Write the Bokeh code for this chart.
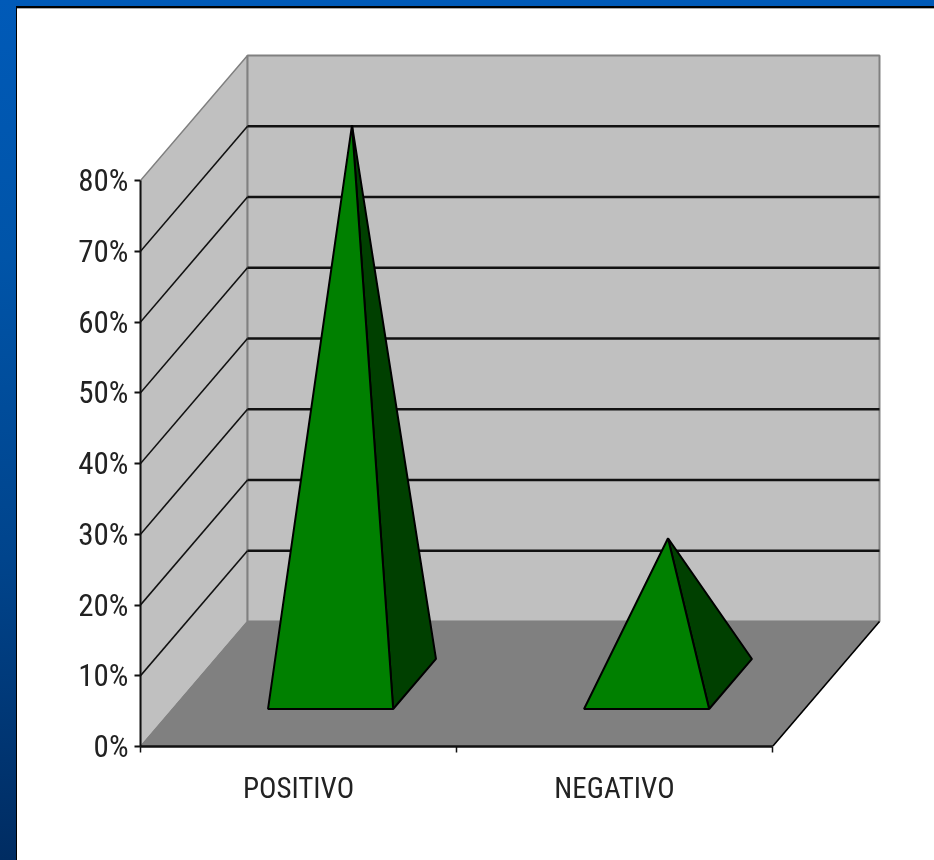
from bokeh.embed import file_html
from bokeh.resources import INLINE
from bokeh.plotting import figure
from bokeh.models import FixedTicker, Range1d

categories = ["POSITIVO", "NEGATIVO"]
values = [79, 20.6]
value_ticks = [0, 10, 20, 30, 40, 50, 60, 70, 80]
grid_values = [10, 20, 30, 40, 50, 60, 70]

# oblique projection of the chart's depth axis, in data units
DX = 107 / 316
DY = 125 / 7.07
HALF = 0.198
D_FRONT, D_BACK = 0.3, 0.7
FONT = "Roboto Condensed"

n = len(categories)
p = figure(
    width=934, height=860, output_backend="svg", toolbar_location=None,
    x_range=Range1d(0, n + DX + 2 / 316), y_range=Range1d(0, 80 + DY + 2 / 7.07),
    min_border_left=140, min_border_right=53, min_border_top=53, min_border_bottom=114,
    background_fill_color=None, border_fill_color=None, outline_line_color=None,
)
p.grid.visible = False

# side wall, back wall, floor
p.patch([0, DX, DX, 0], [0, DY, 80 + DY, 80], fill_color="#c0c0c0", line_color="#808080", line_width=1.5)
p.patch([DX, n + DX, n + DX, DX], [DY, DY, 80 + DY, 80 + DY], fill_color="#c0c0c0", line_color="#808080", line_width=2)
p.patch([0, n, n + DX, DX], [0, 0, DY, DY], fill_color="#808080", line_color="#808080", line_width=1)
p.line([n, n + DX], [0, DY], line_color="#000000", line_width=1.6)

# gridlines
for g in grid_values:
    p.line([0, DX], [g, g + DY], line_color="#111111", line_width=1.6)
    p.line([DX, n + DX], [g + DY, g + DY], line_color="#111111", line_width=2.5)

# pyramids
for i, v in enumerate(values):
    c = i + 0.5
    fx, fy = c + D_FRONT * DX, D_FRONT * DY
    bx, by = c + D_BACK * DX, D_BACK * DY
    ax, ay = c + 0.5 * DX, 0.5 * DY + v
    p.patch([fx + HALF, bx + HALF, ax], [fy, by, ay], fill_color="#004000", line_color="#000000", line_width=2)
    p.patch([fx - HALF, fx + HALF, ax], [fy, fy, ay], fill_color="#008000", line_color="#000000", line_width=2)

ya = p.yaxis[0]
ya.ticker = FixedTicker(ticks=value_ticks)
ya.major_label_overrides = {t: f"{t}%" for t in value_ticks}
ya.bounds = (0, 80)
ya.axis_line_color = "#111111"
ya.axis_line_width = 2
ya.major_tick_line_color = "#111111"
ya.major_tick_line_width = 2
ya.major_tick_in = 0
ya.major_tick_out = 6
ya.minor_tick_line_color = None
ya.major_label_standoff = 6
ya.major_label_text_font = FONT
ya.major_label_text_font_size = "31px"
ya.major_label_text_color = "#222222"

xa = p.xaxis[0]
centers = [i + 0.5 for i in range(n)]
xa.ticker = FixedTicker(ticks=centers, minor_ticks=list(range(n + 1)))
xa.major_label_overrides = {c: categories[i] for i, c in enumerate(centers)}
xa.bounds = (0, n)
xa.axis_line_color = "#111111"
xa.axis_line_width = 2.5
xa.major_tick_line_color = None
xa.minor_tick_line_color = "#111111"
xa.minor_tick_line_width = 1.5
xa.minor_tick_in = 0
xa.minor_tick_out = 6
xa.major_label_standoff = 18
xa.major_label_text_font = FONT
xa.major_label_text_font_size = "29px"
xa.major_label_text_color = "#222222"

html = file_html(p, INLINE)
style = """<style>
html,body{height:100%;overflow:hidden}
html{background:linear-gradient(180deg,#005ab8 0%,#0054a8 30%,#00448c 65%,#002c62 100%)}
body::before{content:"";position:fixed;left:16px;top:6px;right:0;bottom:0;z-index:-1;background:#fff;
border-left:1px solid #000;border-top:2px solid #000;box-shadow:inset 0 1px 0 #aaa}
</style></head>"""
html = html.replace("</head>", style, 1)
open("out.html", "w").write(html)
